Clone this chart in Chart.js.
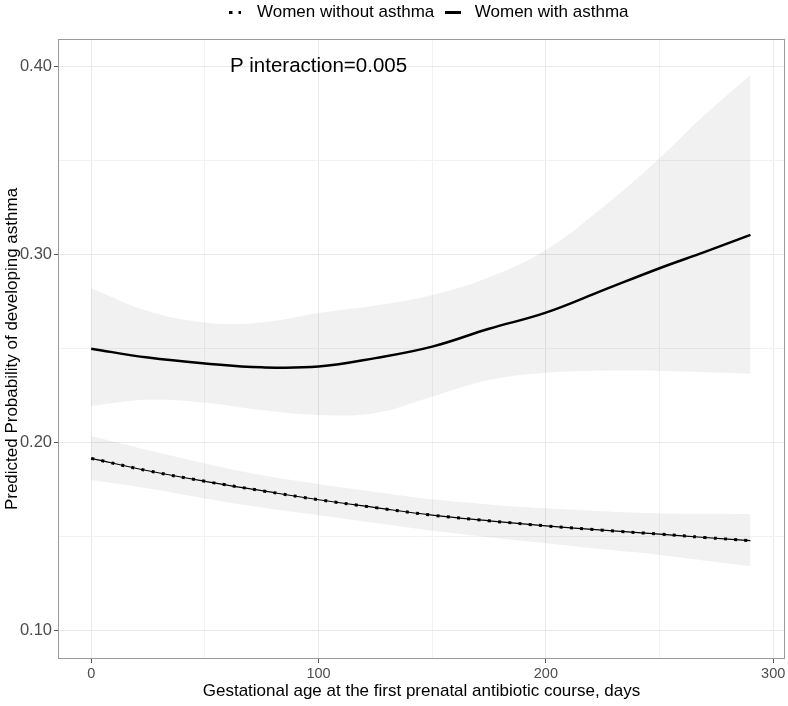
<!DOCTYPE html>
<html>
<head>
<meta charset="utf-8">
<script src="https://cdn.jsdelivr.net/npm/chart.js@4/dist/chart.umd.min.js"></script>
<style>
    html, body { margin: 0; padding: 0; background: #fff; }
</style>
</head>
<body>
<canvas id="chart" width="788" height="706"></canvas>
<script>
// Gestational age (days) and predicted probabilities
const days = [0, 25, 50, 75, 100, 125, 150, 175, 200, 225, 250, 270, 290];

const withAsthma      = [0.2500, 0.2453, 0.2422, 0.2401, 0.2405, 0.2450, 0.2511, 0.2606, 0.2692, 0.2810, 0.2928, 0.3015, 0.3105];
const withAsthmaHigh  = [0.2821, 0.2700, 0.2640, 0.2640, 0.2690, 0.2730, 0.2786, 0.2880, 0.3025, 0.3252, 0.3513, 0.3745, 0.3956];
const withAsthmaLow   = [0.2195, 0.2228, 0.2213, 0.2174, 0.2148, 0.2158, 0.2245, 0.2333, 0.2372, 0.2383, 0.2382, 0.2375, 0.2367];

const withoutAsthma     = [0.1917, 0.1851, 0.1795, 0.1745, 0.1697, 0.1655, 0.1615, 0.1585, 0.1558, 0.1535, 0.1514, 0.1496, 0.1479];
const withoutAsthmaHigh = [0.2036, 0.1961, 0.1890, 0.1828, 0.1780, 0.1738, 0.1699, 0.1672, 0.1651, 0.1636, 0.1625, 0.1622, 0.1621];
const withoutAsthmaLow  = [0.1802, 0.1757, 0.1704, 0.1656, 0.1615, 0.1573, 0.1532, 0.1498, 0.1465, 0.1433, 0.1403, 0.1373, 0.1344];

const xMajor = [0, 100, 200, 300];
const xMinor = [50, 150, 250];
const yMajor = [0.10, 0.20, 0.30, 0.40];
const yMinor = [0.15, 0.25, 0.35];

const annotationText = 'P interaction=0.005';
const annotationX = 100;
const annotationY = 0.40;

Chart.defaults.font.family = '"Liberation Sans", Arial, Helvetica, sans-serif';

function points(values) {
    return values.map((v, i) => ({ x: days[i], y: v }));
}

// legend symbols
function makeDots() {
    const c = document.createElement('canvas');
    c.width = 12; c.height = 3;
    const g = c.getContext('2d');
    g.fillStyle = '#000';
    g.fillRect(0, 0, 3, 3);
    g.fillRect(9, 0, 3, 3);
    return c;
}
function makeDash() {
    const c = document.createElement('canvas');
    c.width = 16; c.height = 3;
    const g = c.getContext('2d');
    g.fillStyle = '#000';
    g.fillRect(0, 0, 16, 3);
    return c;
}

const bandStyle = {
    borderWidth: 0,
    borderColor: 'rgba(0,0,0,0)',
    pointRadius: 0,
    tension: 0.4
};

const datasets = [
    Object.assign({ label: '', data: points(withAsthmaHigh), fill: '+1', backgroundColor: 'rgba(0,0,0,0.055)' }, bandStyle),
    Object.assign({ label: '', data: points(withAsthmaLow), fill: false }, bandStyle),
    Object.assign({ label: '', data: points(withoutAsthmaHigh), fill: '+1', backgroundColor: 'rgba(0,0,0,0.055)' }, bandStyle),
    Object.assign({ label: '', data: points(withoutAsthmaLow), fill: false }, bandStyle),
    {
        label: 'Women without asthma',
        data: points(withoutAsthma),
        borderColor: '#000',
        borderWidth: 1.2,
        pointRadius: 0,
        pointStyle: makeDots(),
        fill: false,
        tension: 0.4
    },
    {
        label: '',
        data: points(withoutAsthma),
        borderColor: '#000',
        borderWidth: 3,
        borderDash: [3, 7.3],
        borderCapStyle: 'butt',
        pointRadius: 0,
        fill: false,
        tension: 0.4
    },
    {
        label: 'Women with asthma',
        data: points(withAsthma),
        borderColor: '#000',
        borderWidth: 2.5,
        pointRadius: 0,
        pointStyle: makeDash(),
        fill: false,
        tension: 0.4
    }
];

const panelPlugin = {
    id: 'panel',
    afterLayout(chart) {
        // ggplot centres the legend over the panel
        chart.legend.left += 66;
        chart.legend.top -= 8;
    },
    afterDatasetsDraw(chart) {
        const { ctx, scales } = chart;
        ctx.save();
        ctx.fillStyle = '#000';
        ctx.font = '20.5px "Liberation Sans", Arial, sans-serif';
        ctx.textAlign = 'center';
        ctx.textBaseline = 'middle';
        ctx.fillText(annotationText, scales.x.getPixelForValue(annotationX), scales.y.getPixelForValue(annotationY));
        ctx.restore();
    },
    afterDraw(chart) {
        const { ctx, chartArea: a } = chart;
        ctx.save();
        ctx.strokeStyle = '#9a9a9a';
        ctx.lineWidth = 1;
        ctx.strokeRect(a.left + 0.5, a.top + 0.5, a.right - a.left - 1, a.bottom - a.top - 1);
        ctx.restore();
    }
};

function gridColor(major) {
    return ctx => major.includes(ctx.tick.value) ? '#e9e9e9' : '#f2f2f2';
}
function tickColor(major) {
    return ctx => major.includes(ctx.tick.value) ? '#555' : 'rgba(0,0,0,0)';
}

new Chart(document.getElementById('chart'), {
    type: 'line',
    data: { datasets: datasets },
    plugins: [panelPlugin],
    options: {
        responsive: false,
        animation: false,
        events: [],
        layout: { padding: { top: 6, right: 3, left: 0, bottom: 0 } },
        plugins: {
            tooltip: { enabled: false },
            legend: {
                position: 'top',
                labels: {
                    usePointStyle: true,
                    pointStyleWidth: 26,
                    color: '#000',
                    padding: 6,
                    font: { size: 17 },
                    filter: item => item.text !== ''
                }
            }
        },
        scales: {
            x: {
                type: 'linear',
                min: -14.6,
                max: 305.2,
                afterBuildTicks: axis => {
                    axis.ticks = xMajor.concat(xMinor).sort((a, b) => a - b).map(v => ({ value: v }));
                },
                afterFit: scale => { scale.height = 47; },
                border: { display: false },
                grid: { color: gridColor(xMajor), tickColor: tickColor(xMajor), tickLength: 4 },
                ticks: {
                    autoSkip: false,
                    maxRotation: 0,
                    padding: 2,
                    color: '#4d4d4d',
                    font: { size: 14.5 },
                    callback: v => xMajor.includes(v) ? String(v) : ''
                },
                title: {
                    display: true,
                    text: 'Gestational age at the first prenatal antibiotic course, days',
                    color: '#000',
                    font: { size: 17 },
                    padding: { top: 0, bottom: 4 }
                }
            },
            y: {
                type: 'linear',
                min: 0.085,
                max: 0.4147,
                afterBuildTicks: axis => {
                    axis.ticks = yMajor.concat(yMinor).sort((a, b) => a - b).map(v => ({ value: v }));
                },
                afterFit: scale => { scale.width = 58; },
                border: { display: false },
                grid: { color: gridColor(yMajor), tickColor: tickColor(yMajor), tickLength: 4 },
                ticks: {
                    autoSkip: false,
                    padding: 2,
                    color: '#4d4d4d',
                    font: { size: 16.5 },
                    callback: v => yMajor.includes(v) ? v.toFixed(2) : ''
                },
                title: {
                    display: true,
                    text: 'Predicted Probability of developing asthma',
                    color: '#000',
                    font: { size: 17 },
                    padding: { top: 2, bottom: 0 }
                }
            }
        }
    }
});
</script>
</body>
</html>
